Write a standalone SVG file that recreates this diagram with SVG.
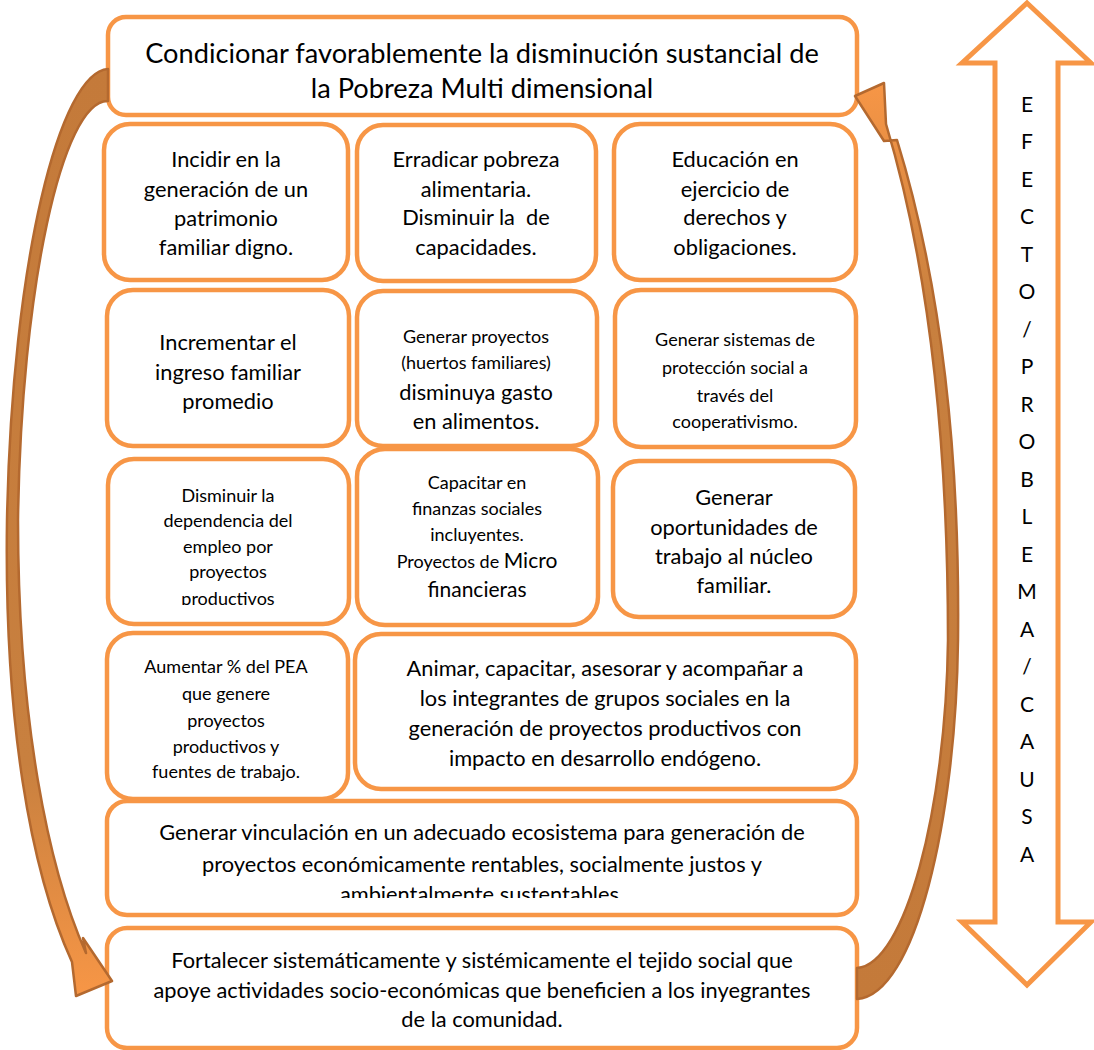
<svg xmlns="http://www.w3.org/2000/svg" width="1094" height="1050" viewBox="0 0 1094 1050">
<style>
.box{fill:#fff;stroke:#F79646;stroke-width:4.5}
.t{font-family:Lato,"Liberation Sans",sans-serif;fill:#000;text-anchor:middle}
.s20{font-size:21.8px}
.s17{font-size:18px}
.s24{font-size:27.2px}
.sv{font-size:21px}
.arr{fill:#fff;stroke:#F79646;stroke-width:5;stroke-linejoin:miter}
.curve{stroke:#B4692F;stroke-width:2.5;stroke-linejoin:round}
</style>
<defs>
<linearGradient id="gl" x1="0" y1="0" x2="0" y2="1">
<stop offset="0" stop-color="#C47A3A"/>
<stop offset="0.75" stop-color="#C8803F"/>
<stop offset="1" stop-color="#F79646"/>
</linearGradient>
<linearGradient id="gr" x1="0" y1="1" x2="0" y2="0">
<stop offset="0" stop-color="#C47A3A"/>
<stop offset="0.75" stop-color="#C8803F"/>
<stop offset="1" stop-color="#F79646"/>
</linearGradient>
<clipPath id="c3a"><rect x="108" y="459" width="241" height="146"/></clipPath>
<clipPath id="c5"><rect x="107" y="801" width="750" height="97"/></clipPath>
</defs>

<g id="n-top">
<rect class="box" x="108" y="17" width="749" height="98" rx="18"/>
<text class="t s24" x="482" y="63">Condicionar favorablemente la disminución sustancial de</text>
<text class="t s24" x="482" y="98">la Pobreza Multi dimensional</text>
</g>

<g id="n-r1a">
<rect class="box" x="104" y="124" width="244" height="156" rx="26"/>
<text class="t s20" x="226" y="167">Incidir en la</text>
<text class="t s20" x="226" y="197">generación de un</text>
<text class="t s20" x="226" y="226">patrimonio</text>
<text class="t s20" x="226" y="255">familiar digno.</text>
</g>
<g id="n-r1b">
<rect class="box" x="357" y="125" width="239" height="156" rx="26"/>
<text class="t s20" x="476" y="167">Erradicar pobreza</text>
<text class="t s20" x="476" y="197">alimentaria.</text>
<text class="t s20" x="476" y="225" xml:space="preserve">Disminuir la  de</text>
<text class="t s20" x="476" y="255">capacidades.</text>
</g>
<g id="n-r1c">
<rect class="box" x="614" y="124" width="242" height="156" rx="26"/>
<text class="t s20" x="735" y="167">Educación en</text>
<text class="t s20" x="735" y="197">ejercicio de</text>
<text class="t s20" x="735" y="225">derechos y</text>
<text class="t s20" x="735" y="255">obligaciones.</text>
</g>

<g id="n-r2a">
<rect class="box" x="107" y="290" width="242" height="156" rx="26"/>
<text class="t s20" x="228" y="350">Incrementar el</text>
<text class="t s20" x="228" y="380">ingreso familiar</text>
<text class="t s20" x="228" y="409">promedio</text>
</g>
<g id="n-r2b">
<rect class="box" x="357" y="291" width="240" height="155" rx="26"/>
<text class="t s17" x="476" y="343">Generar proyectos</text>
<text class="t s17" x="476" y="369">(huertos familiares)</text>
<text class="t s20" x="476" y="400">disminuya gasto</text>
<text class="t s20" x="476" y="429">en alimentos.</text>
</g>
<g id="n-r2c">
<rect class="box" x="615" y="290" width="241" height="157" rx="26"/>
<text class="t s17" x="735" y="346">Generar sistemas de</text>
<text class="t s17" x="735" y="374">protección social a</text>
<text class="t s17" x="735" y="402">través del</text>
<text class="t s17" x="735" y="428">cooperativismo.</text>
</g>

<g id="n-r3a">
<rect class="box" x="108" y="459" width="241" height="165" rx="26"/>
<g clip-path="url(#c3a)">
<text class="t s17" x="228" y="502">Disminuir la</text>
<text class="t s17" x="228" y="527">dependencia del</text>
<text class="t s17" x="228" y="553">empleo por</text>
<text class="t s17" x="228" y="578">proyectos</text>
<text class="t s17" x="228" y="605">productivos</text>
</g>
</g>
<g id="n-r3b">
<rect class="box" x="357" y="449" width="241" height="176" rx="28"/>
<text class="t s17" x="477" y="489">Capacitar en</text>
<text class="t s17" x="477" y="515">finanzas sociales</text>
<text class="t s17" x="477" y="541">incluyentes.</text>
<text class="t s17" x="477" y="568">Proyectos de <tspan font-size="21px">Micro</tspan></text>
<text class="t" font-size="21px" x="477" y="597">financieras</text>
</g>
<g id="n-r3c">
<rect class="box" x="613" y="461" width="242" height="156" rx="26"/>
<text class="t s20" x="734" y="505">Generar</text>
<text class="t s20" x="734" y="535">oportunidades de</text>
<text class="t s20" x="734" y="564">trabajo al núcleo</text>
<text class="t s20" x="734" y="593">familiar.</text>
</g>

<g id="n-r4a">
<rect class="box" x="107" y="633" width="241" height="166" rx="26"/>
<text class="t s17" x="226" y="673">Aumentar % del PEA</text>
<text class="t s17" x="226" y="700">que genere</text>
<text class="t s17" x="226" y="727">proyectos</text>
<text class="t s17" x="226" y="753">productivos y</text>
<text class="t s17" x="226" y="778">fuentes de trabajo.</text>
</g>
<g id="n-r4b">
<rect class="box" x="355" y="634" width="501" height="155" rx="26"/>
<text class="t s20" x="605" y="676">Animar, capacitar, asesorar y acompañar a</text>
<text class="t s20" x="605" y="706">los integrantes de grupos sociales en la</text>
<text class="t s20" x="605" y="736">generación de proyectos productivos con</text>
<text class="t s20" x="605" y="766">impacto en desarrollo endógeno.</text>
</g>

<g id="n-r5">
<rect class="box" x="107" y="801" width="750" height="114" rx="20"/>
<g clip-path="url(#c5)">
<text class="t s20" x="482" y="840">Generar vinculación en un adecuado ecosistema para generación de</text>
<text class="t s20" x="482" y="872">proyectos económicamente rentables, socialmente justos y</text>
<text class="t s20" x="482" y="902">ambientalmente sustentables.</text>
</g>
</g>

<g id="n-r6">
<rect class="box" x="107" y="928" width="750" height="120" rx="20"/>
<text class="t s20" x="482" y="968">Fortalecer sistemáticamente y sistémicamente el tejido social que</text>
<text class="t s20" x="482" y="998">apoye actividades socio-económicas que beneficien a los inyegrantes</text>
<text class="t s20" x="482" y="1027">de la comunidad.</text>
</g>

<g id="n-efecto-causa">
<path class="arr" d="M1027,3 L1091,63 L1058,63 L1058,922 L1091,922 L1027,985 L962,922 L995,922 L995,63 L962,63 Z"/>
<g class="t sv">
<text x="1027" y="112">E</text>
<text x="1027" y="149">F</text>
<text x="1027" y="187">E</text>
<text x="1027" y="224">C</text>
<text x="1027" y="262">T</text>
<text x="1027" y="299">O</text>
<text x="1027" y="337">/</text>
<text x="1027" y="374">P</text>
<text x="1027" y="412">R</text>
<text x="1027" y="449">O</text>
<text x="1027" y="487">B</text>
<text x="1027" y="524">L</text>
<text x="1027" y="562">E</text>
<text x="1027" y="599">M</text>
<text x="1027" y="637">A</text>
<text x="1027" y="674">/</text>
<text x="1027" y="712">C</text>
<text x="1027" y="749">A</text>
<text x="1027" y="787">U</text>
<text x="1027" y="824">S</text>
<text x="1027" y="862">A</text>
</g>
</g>

<g id="connectors">
<path class="curve" fill="url(#gl)" d="M108,69 C60,72 12,260 7,520 C4,720 30,870 72,962 L76,996 L112,981 L83,938 L86,953 C48,868 18,720 18,520 C21,290 62,100 108,101 Z"/>
<path class="curve" fill="url(#gr)" d="M857,999 C915,996 956,820 958,640 C960,450 940,280 897,140 L884,141 L855,96 L884,83 L886,124 C930,270 948,450 948,640 C946,810 905,965 857,968 Z"/>
</g>
</svg>
